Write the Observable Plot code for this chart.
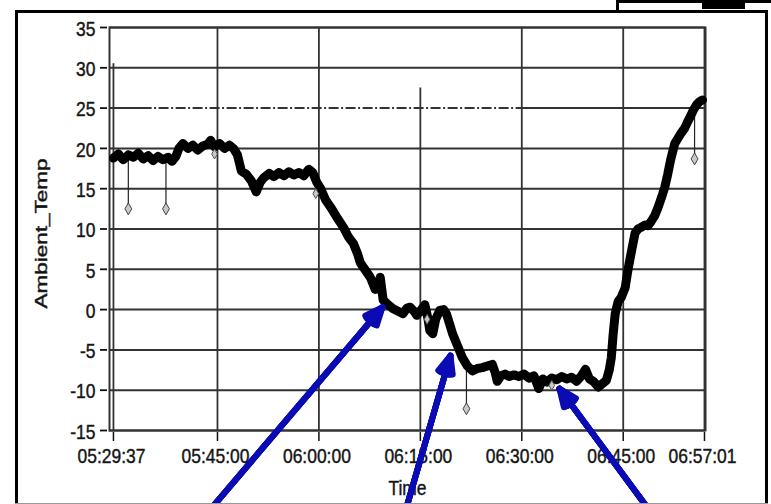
<!DOCTYPE html>
<html><head><meta charset="utf-8">
<script src="https://cdn.jsdelivr.net/npm/d3@7"></script>
<script src="https://cdn.jsdelivr.net/npm/@observablehq/plot@0.6"></script>
<style>
html,body{margin:0;padding:0;background:#fff;}
#wrap{position:relative;width:771px;height:504px;overflow:hidden;background:#fff;}
#wrap svg{position:absolute;left:0;top:0;}
.deco{position:absolute;background:#000;pointer-events:none;}
#border{position:absolute;left:15px;top:10px;width:753px;height:560px;box-sizing:border-box;border:3.5px solid #000;pointer-events:none;}
</style></head><body>
<div id="wrap"></div>
<script>
// ---- data ----
const timeLabels = ["05:29:37","05:30:21","05:31:05","05:31:49","05:32:33","05:33:17","05:34:01","05:34:45","05:35:29","05:36:13","05:36:57","05:37:41","05:38:16","05:38:51","05:39:18","05:39:53","05:40:37","05:41:21","05:42:05","05:42:49","05:43:33","05:43:59","05:44:34","05:45:18","05:46:02","05:46:46","05:47:22","05:47:57","05:48:32","05:49:16","05:50:00","05:50:44","05:51:19","05:51:54","05:52:38","05:53:22","05:54:06","05:54:50","05:55:34","05:56:18","05:57:02","05:57:46","05:58:30","05:59:05","05:59:41","06:00:16","06:01:00","06:01:44","06:02:37","06:03:38","06:04:22","06:05:06","06:05:41","06:06:08","06:06:52","06:07:36","06:08:20","06:08:46","06:09:04","06:09:30","06:10:14","06:10:58","06:11:42","06:12:26","06:13:01","06:13:28","06:14:03","06:14:29","06:15:04","06:15:40","06:16:06","06:16:24","06:16:50","06:17:16","06:17:52","06:18:27","06:18:53","06:19:20","06:19:46","06:20:30","06:21:14","06:21:58","06:22:42","06:23:26","06:24:10","06:24:54","06:25:38","06:26:04","06:26:22","06:26:57","06:27:32","06:28:07","06:28:51","06:29:35","06:30:19","06:31:03","06:31:47","06:32:31","06:33:07","06:33:42","06:34:26","06:35:10","06:35:54","06:36:38","06:37:22","06:38:06","06:38:50","06:39:25","06:40:00","06:40:35","06:41:19","06:41:54","06:42:30","06:42:56","06:43:14","06:43:31","06:43:49","06:44:15","06:44:42","06:45:17","06:45:43","06:46:10","06:46:45","06:47:11","06:47:38","06:48:13","06:48:39","06:49:06","06:49:41","06:50:07","06:50:42","06:51:09","06:51:35","06:52:01","06:52:37","06:53:03","06:53:29","06:54:05","06:54:31","06:54:57","06:55:24","06:55:50","06:56:17","06:56:43"];
const ambientTemp = [18.8,19.3,18.6,19.2,18.9,19.4,18.7,19.1,18.5,19.0,18.6,18.9,18.4,19.0,20.0,20.6,20.0,20.4,19.8,20.3,20.5,21.0,20.2,20.6,20.0,20.4,20.0,19.2,17.2,16.8,16.0,14.6,15.8,16.4,16.9,16.5,17.0,16.6,17.1,16.7,17.0,16.6,17.4,17.0,15.8,15.0,13.6,12.7,11.5,10.2,9.0,8.2,7.0,5.8,4.9,4.0,2.5,3.2,4.0,1.2,0.6,0.1,-0.2,-0.5,0.2,0.3,-0.2,-0.7,-0.1,0.6,-1.0,-2.6,-3.0,-1.2,-0.1,0.0,-0.6,-1.8,-3.0,-4.5,-6.0,-7.0,-7.6,-7.3,-7.2,-7.0,-6.8,-7.8,-8.9,-8.2,-8.0,-8.3,-8.1,-8.3,-8.0,-8.5,-8.2,-9.8,-8.6,-9.0,-8.5,-8.7,-8.3,-8.6,-8.4,-8.9,-8.2,-7.4,-8.6,-8.9,-9.6,-9.2,-8.8,-7.5,-6.0,-3.0,-0.5,1.0,1.5,2.7,5.0,7.0,9.5,10.0,10.2,10.5,10.4,10.9,11.7,12.6,14.0,15.2,16.8,18.6,20.6,21.2,21.8,22.5,23.3,24.0,24.8,25.4,25.8,26.0];

// outlier readings (spikes drawn down to a diamond)
const spikeTimes = ["05:31:49","05:37:23","06:21:49","06:55:33"];
const spikeFrom  = [19.2, 18.8, -6.8, 25.0];
const spikeTo    = [12.5, 12.5, -12.3, 18.7];
// small diamonds lying on the trace
const markTimes = ["05:44:34","05:59:32","06:16:00","06:34:26"];
const markTemps = [19.3, 14.4, -1.2, -9.4];

// axis ticks
const xTickLabels = ["05:29:37","05:45:00","06:00:00","06:15:00","06:30:00","06:45:00","06:57:01"];
const xGridTop = [30.5, 35, 35, 27.5, 35, 35, 35];
const yTicks = [-15,-10,-5,0,5,10,15,20,25,30,35];
const xDomainLabels = ["05:29:02","06:57:10"];
const yDomain = [-15, 35];
const xLabel = "Time";
const yLabel = "Ambient_Temp";

// annotation arrows (blue)
const arrowTailTime = ["05:43:45","06:12:48","06:48:57"];
const arrowTailTemp = [-25, -25, -25];
const arrowTipTime  = ["06:09:24","06:19:27","06:35:34"];
const arrowTipTemp  = [0.3, -5.7, -9.8];

// erased strip over the 25 gridline
const maskStart = ["05:35:20"];
const maskEnd = ["06:30:00"];

// ---- build ----
const parse = d3.utcParse("%H:%M:%S");
const series = timeLabels.map((t, i) => ({time: parse(t), temp: ambientTemp[i]}));
const spikes = spikeTimes.map((t, i) => ({time: parse(t), from: spikeFrom[i], to: spikeTo[i]}));
const marks = markTimes.map((t, i) => ({time: parse(t), temp: markTemps[i]}));
const xTicks = xTickLabels.map(parse);
const arrows = arrowTailTime.map((t, i) => ({
  t1: parse(t), v1: arrowTailTemp[i], t2: parse(arrowTipTime[i]), v2: arrowTipTemp[i]
}));
const gridX = xTicks.map((d, i) => ({time: d, top: xGridTop[i]}));

const blue = "#0b0bb4";
const headAngles = [46, 34, 22, 10];
const arrowMarks = headAngles.map(a => Plot.arrow(arrows, {
  x1: "t1", y1: "v1", x2: "t2", y2: "v2",
  stroke: blue, strokeWidth: 6, headLength: 4.8, headAngle: a
}));

const chart = Plot.plot({
  width: 771,
  height: 504,
  marginLeft: 109,
  marginRight: 66,
  marginTop: 27,
  marginBottom: 74,
  style: {
    fontFamily: "'Liberation Sans',Arial,sans-serif",
    fontSize: "21px",
    color: "#111",
    background: "white"
  },
  x: {type: "utc", domain: xDomainLabels.map(parse)},
  y: {domain: yDomain},
  marks: [
    Plot.ruleY(yTicks, {stroke: "#333", strokeWidth: 2}),
    Plot.ruleX(gridX, {x: "time", y1: -15, y2: "top", stroke: "#333", strokeWidth: 1.8}),
    Plot.ruleY([25], {x1: () => parse(maskStart[0]), x2: () => parse(maskEnd[0]), stroke: "white", strokeWidth: 3, strokeDasharray: "2.5 2 2.5 10"}),
    Plot.frame({stroke: "#333", strokeWidth: 2}),
    // y ticks and labels
    Plot.axisY({ticks: yTicks, tickSize: 7, dx: -2, label: null, strokeWidth: 1.8, tickFormat: () => ""}),
    Plot.axisY({ticks: yTicks, tickSize: 0, tickPadding: 14, dy: 1.5, label: null, tickFormat: d => String(d)}),
    // x ticks and labels
    Plot.axisX({ticks: xTicks, tickSize: 9, dy: 2, label: null, strokeWidth: 1.5, tickFormat: () => ""}),
    Plot.axisX({ticks: xTicks, tickSize: 0, tickPadding: 18, dx: -2, label: null, tickFormat: d3.utcFormat("%H:%M:%S")}),
    Plot.link(spikes, {x1: "time", x2: "time", y1: "from", y2: "to", stroke: "#222", strokeWidth: 1.2}),
    Plot.line(series, {x: "time", y: "temp", stroke: "black", strokeWidth: 9, strokeLinejoin: "round", strokeLinecap: "round"}),
    Plot.dot(spikes, {x: "time", y: "to", symbol: "diamond", r: 3.6, fill: "#c8c8c8", stroke: "#444", strokeWidth: 1}),
    Plot.dot(marks, {x: "time", y: "temp", symbol: "diamond", r: 3, fill: "#c8c8c8", stroke: "#555", strokeWidth: 1}),
    Plot.text([xLabel], {frameAnchor: "bottom", text: d => d, dy: 58, lineAnchor: "middle", textAnchor: "middle", fontSize: 21}),
    Plot.text([yLabel], {frameAnchor: "left", text: d => d, dx: -67.5, dy: 4.5, rotate: -90, lineAnchor: "middle", textAnchor: "middle",
      fontFamily: "'Liberation Sans',Arial,sans-serif", fontSize: 16}),
    ...arrowMarks
  ]
});

document.getElementById("wrap").appendChild(chart);

// source rendering: text stretched vertically (narrow-tall tick labels, long rotated title)
d3.select(chart).selectAll("text").each(function() {
  if (!this.textContent) return;
  if (this.textContent === yLabel) {
    this.setAttribute("textLength", 150);
    this.setAttribute("lengthAdjust", "spacingAndGlyphs");
  } else {
    const w = this.getComputedTextLength();
    if (w > 0) {
      this.setAttribute("textLength", (w * 0.83).toFixed(1));
      this.setAttribute("lengthAdjust", "spacingAndGlyphs");
    }
  }
  this.style.stroke = "#222";
  this.style.strokeWidth = "0.45px";
});

// window decorations
const wrap = document.getElementById("wrap");
const border = document.createElement("div"); border.id = "border"; wrap.appendChild(border);
[[618, 0, 153, 3, "#000"], [702, 0, 43, 9, "#000"], [616, 0, 3, 12, "#000"], [15, 503, 753, 1, "#999"]].forEach(([l, t, w, h, c]) => {
  const d = document.createElement("div"); d.className = "deco";
  d.style.left = l + "px"; d.style.top = t + "px"; d.style.width = w + "px"; d.style.height = h + "px";
  d.style.background = c;
  wrap.appendChild(d);
});
</script>
</body></html>
